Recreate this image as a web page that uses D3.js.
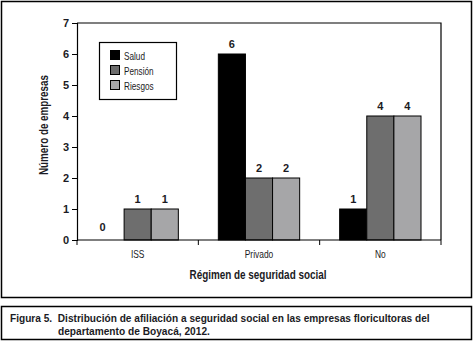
<!DOCTYPE html>
<html>
<head>
<meta charset="utf-8">
<script src="https://cdn.jsdelivr.net/npm/d3@7"></script>
<style>
  body { margin: 0; background: #fff; }
  svg text { font-family: "Liberation Sans", Arial, sans-serif; fill: #1b1b24; }
</style>
</head>
<body>
<div id="chart"></div>
<script>
const categories = ["ISS", "Privado", "No"];
const series = ["Salud", "Pensión", "Riesgos"];
const salud = [0, 6, 1];
const pension = [1, 2, 4];
const riesgos = [1, 2, 4];
const yTicks = [0, 1, 2, 3, 4, 5, 6, 7];
const colors = ["#000000", "#6e6e6e", "#a6a6a8"];
const caption = ["Figura 5.  Distribución de afiliación a seguridad social en las empresas floricultoras del",
                 "departamento de Boyacá, 2012."];

let width = 475, height = 343,
    margin = ({ top: 23, right: 34, bottom: 103, left: 77 });

// squeeze text horizontally to imitate a condensed face
function narrow(sel, f) {
  sel.each(function() {
    const w = this.getComputedTextLength();
    d3.select(this).attr("textLength", w * f).attr("lengthAdjust", "spacingAndGlyphs");
  });
}

// put a text at (x0, y0) scaled to a target width
function fitText(g, x0, y0, txt, target, size) {
  const t = g.append("text")
    .attr("font-size", size)
    .attr("font-weight", "bold")
    .style("white-space", "pre")
    .text(txt);
  const k = target / t.node().getComputedTextLength();
  t.attr("transform", `translate(${x0},${y0}) scale(${k},1)`);
  return t;
}

const svg = d3.select("#chart")
  .append("svg")
  .attr("width", width)
  .attr("height", height);

const data = categories.map((c, i) => ({ cat: c, values: [salud[i], pension[i], riesgos[i]] }));

// outer frames
svg.append("rect").attr("x", 1.5).attr("y", 1.5).attr("width", 470).attr("height", 296)
  .attr("fill", "none").attr("stroke", "#000").attr("stroke-width", 1.5);
svg.append("rect").attr("x", 1.5).attr("y", 306.5).attr("width", 470).attr("height", 33)
  .attr("fill", "none").attr("stroke", "#000").attr("stroke-width", 1.5);

let x = d3.scaleBand()
  .domain(categories)
  .range([margin.left, width - margin.right]);

let xIn = d3.scaleBand()
  .domain(series)
  .range([20, x.bandwidth() - 20]);

let y = d3.scaleLinear()
  .domain([0, 7])
  .range([height - margin.bottom, margin.top]);

// plot frame top + right
svg.append("path")
  .attr("d", `M${margin.left},${margin.top}H${width - margin.right}V${y(0)}`)
  .attr("fill", "none").attr("stroke", "#000").attr("stroke-width", 1.2);

// bars
const groups = svg.append("g")
  .selectAll("g")
  .data(data)
  .join("g")
  .attr("transform", d => `translate(${x(d.cat)},0)`);

groups.selectAll("rect")
  .data(d => d.values.map((v, i) => ({ key: series[i], v, i })))
  .join("rect")
  .attr("x", d => xIn(d.key))
  .attr("y", d => y(d.v))
  .attr("width", xIn.bandwidth())
  .attr("height", d => y(0) - y(d.v))
  .attr("fill", d => colors[d.i])
  .attr("stroke", "#000")
  .attr("stroke-width", 1);

// value labels (zero label sits a little left and higher in the original)
groups.selectAll("text")
  .data(d => d.values.map((v, i) => ({ key: series[i], v, i })))
  .join("text")
  .attr("x", d => xIn(d.key) + xIn.bandwidth() / 2 - (d.v === 0 ? 8 : 0))
  .attr("y", d => y(d.v) - (d.v === 0 ? 9 : 6))
  .attr("text-anchor", "middle")
  .attr("font-size", 11)
  .attr("font-weight", "bold")
  .text(d => d.v);

// axes
svg.append("g")
  .attr("transform", `translate(${margin.left},0)`)
  .call(d3.axisLeft(y).tickValues(yTicks).tickFormat(d3.format("d")).tickSize(5).tickPadding(3))
  .call(g => g.selectAll("text").attr("font-size", 11).attr("font-weight", "bold"))
  .call(g => g.select(".domain").attr("stroke-width", 1.2));

const xAxis = svg.append("g")
  .attr("transform", `translate(0,${y(0)})`);
xAxis.append("line")
  .attr("x1", margin.left).attr("x2", width - margin.right)
  .attr("stroke", "#000").attr("stroke-width", 1.2);
xAxis.selectAll(".tk")
  .data([margin.left, ...categories.map(c => x(c) + x.bandwidth())])
  .join("line")
  .attr("x1", d => d).attr("x2", d => d)
  .attr("y1", 0).attr("y2", 5)
  .attr("stroke", "#000");
xAxis.selectAll("text")
  .data(categories)
  .join("text")
  .attr("x", d => x(d) + x.bandwidth() / 2)
  .attr("y", 18)
  .attr("text-anchor", "middle")
  .attr("font-size", 10.5)
  .text(d => d)
  .call(narrow, 0.8);

// axis titles
svg.append("text")
  .attr("x", 258).attr("y", 279)
  .attr("text-anchor", "middle")
  .attr("font-size", 12)
  .attr("font-weight", "bold")
  .text("Régimen de seguridad social")
  .attr("textLength", 137).attr("lengthAdjust", "spacingAndGlyphs");

svg.append("text")
  .attr("transform", "translate(48,125) rotate(-90)")
  .attr("text-anchor", "middle")
  .attr("font-size", 12)
  .attr("font-weight", "bold")
  .text("Número de empresas")
  .attr("textLength", 100).attr("lengthAdjust", "spacingAndGlyphs");

// legend
const legend = svg.append("g");
legend.append("rect")
  .attr("x", 99.5).attr("y", 42.5).attr("width", 77).attr("height", 57)
  .attr("fill", "#fff").attr("stroke", "#000").attr("stroke-width", 1.2);
const li = legend.selectAll("g.item")
  .data(series)
  .join("g")
  .attr("transform", (d, i) => `translate(110.5,${50.5 + i * 15})`);
li.append("rect")
  .attr("width", 9).attr("height", 9)
  .attr("fill", (d, i) => colors[i])
  .attr("stroke", "#000");
li.append("text")
  .attr("x", 13.5).attr("y", 9)
  .attr("font-size", 10.5)
  .text(d => d)
  .call(narrow, 0.78);

// caption
const cap = svg.append("g");
fitText(cap, 10, 322, caption[0], 420, 11.5);
fitText(cap, 58, 335, caption[1], 152, 11.5);
</script>
</body>
</html>
